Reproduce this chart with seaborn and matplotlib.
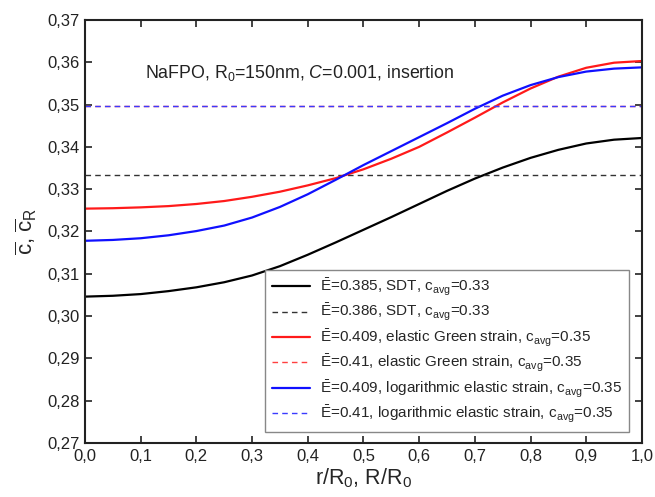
import matplotlib
matplotlib.use("Agg")
import matplotlib.pyplot as plt
import seaborn as sns
import numpy as np
import pandas as pd
from matplotlib.ticker import FuncFormatter, MultipleLocator

x = [0.0, 0.05, 0.1, 0.15, 0.2, 0.25, 0.3, 0.35, 0.4, 0.45, 0.5,
     0.55, 0.6, 0.65, 0.7, 0.75, 0.8, 0.85, 0.9, 0.95, 1.0]
sdt = [0.3046, 0.3048, 0.3052, 0.3059, 0.3068, 0.3080, 0.3096, 0.3118, 0.3145, 0.3174, 0.3204,
       0.3234, 0.3265, 0.3296, 0.3325, 0.3351, 0.3374, 0.3393, 0.3408, 0.3417, 0.3421]
green = [0.3254, 0.3255, 0.3257, 0.3260, 0.3265, 0.3272, 0.3282, 0.3294, 0.3309, 0.3326, 0.3347,
         0.3372, 0.3400, 0.3434, 0.3469, 0.3505, 0.3538, 0.3566, 0.3587, 0.3599, 0.3603]
logel = [0.3178, 0.3180, 0.3184, 0.3191, 0.3201, 0.3214, 0.3233, 0.3258, 0.3288, 0.3322, 0.3357,
         0.3390, 0.3423, 0.3456, 0.3490, 0.3521, 0.3546, 0.3565, 0.3578, 0.3585, 0.3588]
x_flat = [0.0, 1.0]
sdt_flat = [0.3333, 0.3333]
green_flat = [0.3497, 0.3497]
log_flat = [0.3497, 0.3497]

labels = [
    r'$\bar{\mathrm{E}}$=0.385, SDT, c$_{\mathrm{avg}}$=0.33',
    r'$\bar{\mathrm{E}}$=0.386, SDT, c$_{\mathrm{avg}}$=0.33',
    r'$\bar{\mathrm{E}}$=0.409, elastic Green strain, c$_{\mathrm{avg}}$=0.35',
    r'$\bar{\mathrm{E}}$=0.41, elastic Green strain, c$_{\mathrm{avg}}$=0.35',
    r'$\bar{\mathrm{E}}$=0.409, logarithmic elastic strain, c$_{\mathrm{avg}}$=0.35',
    r'$\bar{\mathrm{E}}$=0.41, logarithmic elastic strain, c$_{\mathrm{avg}}$=0.35',
]

sns.set_style("ticks")
plt.rcParams['font.family'] = ['Liberation Sans', 'DejaVu Sans']
plt.rcParams['mathtext.fontset'] = 'custom'
plt.rcParams['mathtext.rm'] = 'Liberation Sans'
plt.rcParams['mathtext.it'] = 'Liberation Sans:italic'
plt.rcParams['mathtext.bf'] = 'Liberation Sans:bold'

fig = plt.figure(figsize=(6.55, 4.97), dpi=100)
ax = fig.add_axes([0.1298, 0.1087, 0.8502, 0.8511])

series = [
    (x, sdt, 'black', '-', 1.6),
    (x_flat, sdt_flat, '#333333', (0, (4, 3)), 1.0),
    (x, green, '#ff1a1a', '-', 1.6),
    (x_flat, green_flat, '#ff4040', (0, (4, 3)), 1.0),
    (x, logel, '#1010ff', '-', 1.6),
    (x_flat, log_flat, '#3a3aff', (0, (4, 3)), 1.0),
]
for (xs, ys, c, ls, lw), lab in zip(series, labels):
    df = pd.DataFrame({'x': xs, 'y': ys})
    sns.lineplot(data=df, x='x', y='y', ax=ax, color=c, linestyle=ls, linewidth=lw, label=lab)

ax.set_xlim(0, 1.0)
ax.set_ylim(0.27, 0.37)
ax.xaxis.set_major_locator(MultipleLocator(0.1))
ax.yaxis.set_major_locator(MultipleLocator(0.01))
ax.xaxis.set_major_formatter(FuncFormatter(lambda v, p: f"{v:.1f}".replace('.', ',')))
ax.yaxis.set_major_formatter(FuncFormatter(lambda v, p: f"{v:.2f}".replace('.', ',')))
ax.tick_params(direction='in', length=5, width=1.2, top=True, right=True,
               labelsize=12, colors='#222222', pad=4)
for s in ax.spines.values():
    s.set_linewidth(1.5)
    s.set_color('#222222')

ax.set_xlabel(r'r/R$_0$, R/R$_0$', fontsize=15.5, labelpad=2)
ax.set_ylabel(r'$\overline{\mathrm{c}}$, $\overline{\mathrm{c}}_{\mathrm{R}}$', fontsize=16, labelpad=6)

ax.text(0.108, 0.3575, r'NaFPO, R$_0$=150nm, $C$=0.001, insertion', fontsize=12.8,
        va='center', ha='left', color='#222222')

leg = ax.legend(loc='lower right', bbox_to_anchor=(0.99, 0.008), fontsize=11,
                frameon=True, fancybox=False, edgecolor='#888888', framealpha=1,
                handlelength=2.5, labelspacing=0.28, borderpad=0.45, handletextpad=0.6)
leg.get_frame().set_linewidth(1.0)

fig.savefig('out.png', dpi=100)
